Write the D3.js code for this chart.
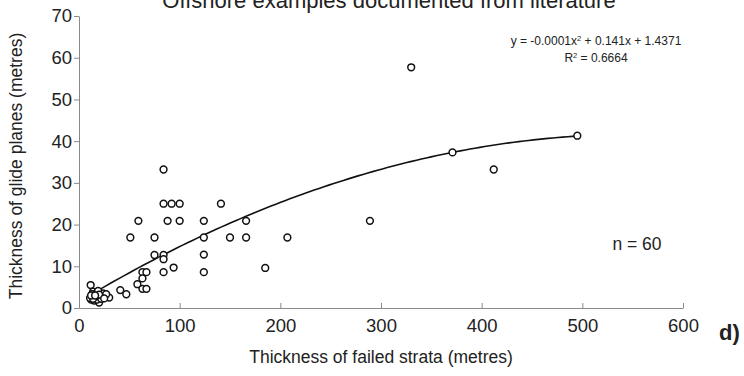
<!DOCTYPE html>
<html><head><meta charset="utf-8">
<script src="https://cdn.jsdelivr.net/npm/d3@7"></script>
<style>
html,body{margin:0;padding:0;background:#fff;}
svg{display:block;font-family:"Liberation Sans",Arial,sans-serif;}
</style></head>
<body>
<svg id="chart" width="744" height="376"></svg>
<script>
// Data
const thicknessFailedStrata = [495,371,412,330,289,207,185,166,166,150,141,124,124,124,124,100,92,84,84,100,88,59,51,75,75,84,84,84,94,63,67,63,58,63,67,41,47,30,11.6,20,14,17,13,16,21,24,27,12,15,18,13,19,22,11,17,14,20,12,25,16];
const thicknessGlidePlanes = [41.3,37.3,33.2,57.7,20.9,16.9,9.6,20.9,16.9,16.9,25,20.9,16.9,12.8,8.6,25,25,25,33.2,20.9,20.9,20.9,16.9,16.9,12.7,12.7,11.7,8.6,9.7,8.6,8.6,7.1,5.7,4.6,4.6,4.3,3.3,2.5,5.5,1.3,3.9,3.5,2.7,2.3,2.7,3.5,3.3,2.0,1.8,2.0,3.3,4.1,2.2,2.4,2.8,2.2,3.2,3.0,2.3,3.0];
const xTicks = [0,100,200,300,400,500,600];
const yTicks = [0,10,20,30,40,50,60,70];
// polynomial trendline as drawn (a, b, c)
const trendCoefficients = [-0.0001313, 0.1452, 1.51];
const titleText = "Offshore examples documented from literature";
const equationLines = ["y = -0.0001x", " + 0.141x + 1.4371"];
const r2Text = "0.6664";
const nText = "n = 60";

const svg = d3.select("#chart");
const x = d3.scaleLinear().domain([0,600]).range([79,683]);
const y = d3.scaleLinear().domain([0,70]).range([308,16]);

// axes
const gx = svg.append("g").attr("transform",`translate(0,${y(0)})`)
  .call(d3.axisBottom(x).tickValues(xTicks).tickSizeInner(-5).tickSizeOuter(0).tickPadding(11));
const gy = svg.append("g").attr("transform",`translate(${x(0)},0)`)
  .call(d3.axisLeft(y).tickValues(yTicks).tickSizeInner(5).tickSizeOuter(0).tickPadding(2));
[gx,gy].forEach(g=>{
  g.selectAll("path,line").attr("stroke","#8a8a8a").attr("stroke-width",1);
  g.selectAll("text").attr("font-size",18.5).attr("fill","#222").attr("font-family","Liberation Sans, Arial, sans-serif");
});

// trendline
const [a,b,c] = trendCoefficients;
const xmin = d3.min(thicknessFailedStrata), xmax = d3.max(thicknessFailedStrata);
const curvePts = d3.range(0,101).map(i=>{const xv = xmin+(xmax-xmin)*i/100; return [xv, a*xv*xv+b*xv+c];});
svg.append("path").datum(curvePts)
  .attr("fill","none").attr("stroke","#111").attr("stroke-width",1.6)
  .attr("d", d3.line().x(d=>x(d[0])).y(d=>y(d[1])));

// points
svg.append("g").selectAll("circle").data(thicknessFailedStrata.map((v,i)=>[v,thicknessGlidePlanes[i]]))
  .join("circle").attr("cx",d=>x(d[0])).attr("cy",d=>y(d[1])).attr("r",3.4)
  .attr("fill","#fff").attr("stroke","#111").attr("stroke-width",1.5);

// title (clipped at top, as in the reference)
svg.append("text").attr("x",389).attr("y",8).attr("text-anchor","middle")
  .attr("font-size",22).attr("fill","#222").text(titleText);

// equation
const eq = svg.append("text").attr("x",596).attr("y",45).attr("text-anchor","middle")
  .attr("font-size",12).attr("fill","#222");
eq.append("tspan").text(equationLines[0]);
eq.append("tspan").attr("font-size",7.5).attr("dy",-4.5).text("2");
eq.append("tspan").attr("dy",4.5).text(equationLines[1]);
const r2 = svg.append("text").attr("x",596).attr("y",62).attr("text-anchor","middle")
  .attr("font-size",12).attr("fill","#222");
r2.append("tspan").text("R");
r2.append("tspan").attr("font-size",7.5).attr("dy",-4.5).text("2");
r2.append("tspan").attr("dy",4.5).text(" = " + r2Text);

svg.append("text").attr("x",637).attr("y",250).attr("text-anchor","middle")
  .attr("font-size",17.5).attr("fill","#222").text(nText);

svg.append("text").attr("x",719).attr("y",340)
  .attr("font-size",22).attr("font-weight","bold").attr("fill","#222").text("d)");

// axis titles
svg.append("text").attr("x",381).attr("y",363).attr("text-anchor","middle")
  .attr("font-size",17.5).attr("fill","#222").text("Thickness of failed strata (metres)");
svg.append("text").attr("transform","translate(22,166) rotate(-90)").attr("text-anchor","middle")
  .attr("font-size",17.5).attr("fill","#222").text("Thickness of glide planes (metres)");
</script>
</body></html>
